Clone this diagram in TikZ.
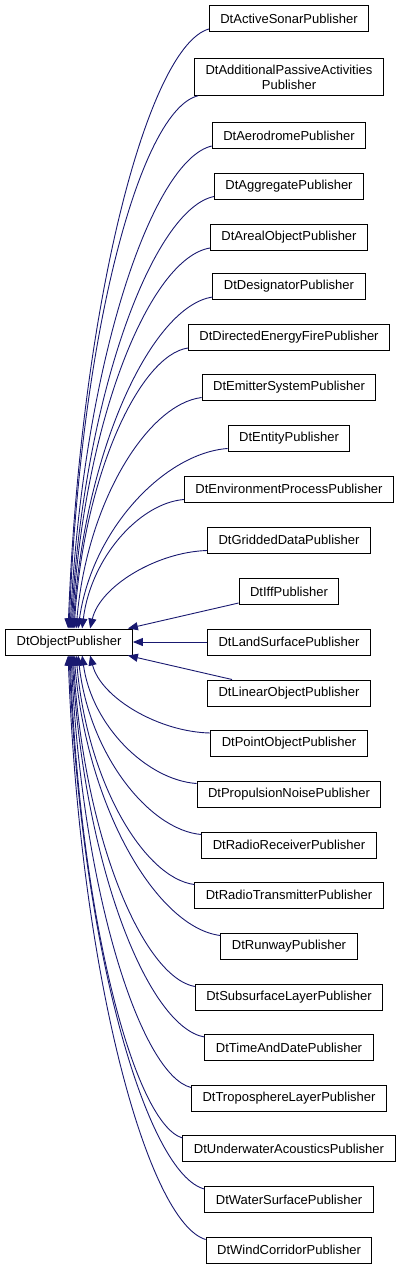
\documentclass[tikz,border=0pt]{standalone}
\usepackage{fontspec}
\setmainfont{Liberation Sans}
\usetikzlibrary{arrows.meta}
\definecolor{bleunuit}{RGB}{25,25,112}

\begin{document}
\begin{tikzpicture}[x=1pt, y=-1pt]
  \tikzstyle{classe}=[draw=black, line width=1pt, fill=white, inner xsep=11pt, inner ysep=6pt,
    minimum height=26pt, align=center, font=\fontsize{13}{15}\selectfont];
  \tikzstyle{herite}=[draw=bleunuit, line width=0.9pt, -{Triangle[length=10pt,width=8pt]}, fill=none];

  \useasboundingbox (0,0) rectangle (403,1269);

  \node[classe] (op) at (69,642) {DtObjectPublisher};

  \node[classe] (as) at (289,18.5) {DtActiveSonarPublisher};
  \node[classe] (apa) at (289,77) {DtAdditionalPassiveActivities\\Publisher};
  \node[classe] (aer) at (289,135.5) {DtAerodromePublisher};
  \node[classe] (agg) at (289,186) {DtAggregatePublisher};
  \node[classe] (are) at (289,237.5) {DtArealObjectPublisher};
  \node[classe] (des) at (289,286.5) {DtDesignatorPublisher};
  \node[classe] (def) at (289,337.5) {DtDirectedEnergyFirePublisher};
  \node[classe] (ems) at (289,387) {DtEmitterSystemPublisher};
  \node[classe] (ent) at (289,438) {DtEntityPublisher};
  \node[classe] (env) at (289,489) {DtEnvironmentProcessPublisher};
  \node[classe] (grd) at (289,540) {DtGriddedDataPublisher};
  \node[classe] (iff) at (289,591.5) {DtIffPublisher};
  \node[classe] (lsf) at (289,642) {DtLandSurfacePublisher};
  \node[classe] (lin) at (289,693) {DtLinearObjectPublisher};
  \node[classe] (pt) at (289,743.5) {DtPointObjectPublisher};
  \node[classe] (prn) at (289,794) {DtPropulsionNoisePublisher};
  \node[classe] (rrc) at (289,845) {DtRadioReceiverPublisher};
  \node[classe] (rtr) at (289,895) {DtRadioTransmitterPublisher};
  \node[classe] (rwy) at (289,946) {DtRunwayPublisher};
  \node[classe] (ssl) at (289,997) {DtSubsurfaceLayerPublisher};
  \node[classe] (tad) at (289,1047.5) {DtTimeAndDatePublisher};
  \node[classe] (tpl) at (289,1098) {DtTroposphereLayerPublisher};
  \node[classe] (uwa) at (289,1148.5) {DtUnderwaterAcousticsPublisher};
  \node[classe] (wsf) at (289,1199.5) {DtWaterSurfacePublisher};
  \node[classe] (wcr) at (289,1250) {DtWindCorridorPublisher};

  % heritage, au-dessus
  \draw[herite] ([yshift=3pt]as.south west) .. controls (149,46) and (81,298) .. ([xshift=63pt]op.north west);
  \draw[herite] ([xshift=4pt]apa.south west) .. controls (140,110) and (80,335) .. ([xshift=64pt]op.north west);
  \draw[herite] ([yshift=3pt]aer.south west) .. controls (152,160) and (83,363) .. ([xshift=65pt]op.north west);
  \draw[herite] ([yshift=3pt]agg.south west) .. controls (154,209) and (84,391) .. ([xshift=66pt]op.north west);
  \draw[herite] ([yshift=3pt]are.south west) .. controls (150,258) and (84,419) .. ([xshift=67pt]op.north west);
  \draw[herite] ([yshift=3pt]des.south west) .. controls (153,306) and (85,446) .. ([xshift=68pt]op.north west);
  \draw[herite] ([yshift=3pt]def.south west) .. controls (140,355) and (84,474) .. ([xshift=69pt]op.north west);
  \draw[herite] ([yshift=3pt]ems.south west) .. controls (148,404) and (87,501) .. ([xshift=71pt]op.north west);
  \draw[herite] ([yshift=3pt]ent.south west) .. controls (165,453) and (92,529) .. ([xshift=73pt]op.north west);
  \draw[herite] ([yshift=3pt]env.south west) .. controls (140,503) and (91,557) .. ([xshift=77pt]op.north west);
  \draw[herite] ([yshift=3pt]grd.south west) .. controls (157,552) and (100,586) .. ([xshift=85pt]op.north west);
  \draw[herite] ([yshift=2pt]iff.south west) -- ([xshift=-5pt]op.north east);
  \draw[herite] (lsf.west) -- (op.east);
  \draw[herite] ([xshift=25pt]lin.north west) -- ([xshift=-5pt]op.south east);
  % heritage, au-dessous
  \draw[herite] ([yshift=-3pt]pt.north west) .. controls (159,732) and (101,698) .. ([xshift=85pt]op.south west);
  \draw[herite] ([yshift=-3pt]prn.north west) .. controls (147,780) and (92,726) .. ([xshift=77pt]op.south west);
  \draw[herite] ([yshift=-3pt]rrc.north west) .. controls (149,830) and (89,754) .. ([xshift=73pt]op.south west);
  \draw[herite] ([yshift=-3pt]rtr.north west) .. controls (144,878) and (87,782) .. ([xshift=71pt]op.south west);
  \draw[herite] ([yshift=-3pt]rwy.north west) .. controls (158,928) and (87,810) .. ([xshift=69pt]op.south west);
  \draw[herite] ([yshift=-3pt]ssl.north west) .. controls (143,977) and (84,838) .. ([xshift=68pt]op.south west);
  \draw[herite] ([yshift=-3pt]tad.north west) .. controls (148,1027) and (84,866) .. ([xshift=67pt]op.south west);
  \draw[herite] ([yshift=-3pt]tpl.north west) .. controls (141,1075) and (82,893) .. ([xshift=66pt]op.south west);
  \draw[herite] ([yshift=-3pt]uwa.north west) .. controls (135,1124) and (80,921) .. ([xshift=65pt]op.south west);
  \draw[herite] ([yshift=-3pt]wsf.north west) .. controls (147,1174) and (81,949) .. ([xshift=64pt]op.south west);
  \draw[herite] ([yshift=-3pt]wcr.north west) .. controls (148,1222) and (80,977) .. ([xshift=63pt]op.south west);
\end{tikzpicture}
\end{document}
